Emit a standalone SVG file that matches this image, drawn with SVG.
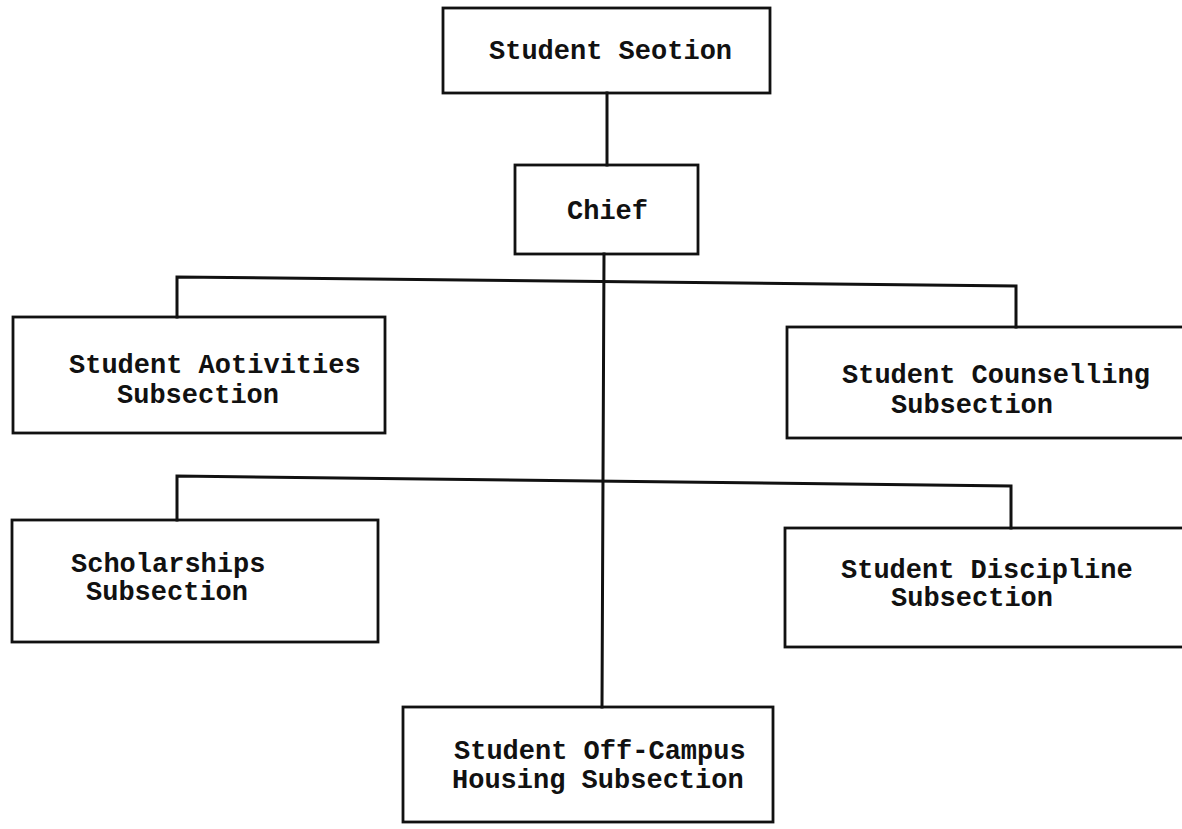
<svg xmlns="http://www.w3.org/2000/svg" width="1182" height="829" viewBox="0 0 1182 829">
  <style>
    .box { fill: none; stroke: #111; stroke-width: 2.8; }
    .wire { fill: none; stroke: #111; stroke-width: 3; stroke-linecap: square; }
    .label { font-family: "Liberation Mono", "DejaVu Sans Mono", monospace; font-size: 27px; font-weight: bold; fill: #111; }
  </style>
  <rect width="1182" height="829" fill="#fff"/>

  <!-- reporting lines -->
  <g id="connectors">
    <line class="wire" x1="607" y1="93" x2="607" y2="165"/>
    <line class="wire" x1="604" y1="254" x2="602" y2="707"/>
    <polyline class="wire" points="177,317 177,277 1016,286 1016,327"/>
    <polyline class="wire" points="177,520 177,476 1011,486 1011,528"/>
  </g>

  <g id="student-section">
    <rect class="box" x="443" y="8" width="327" height="85"/>
    <text class="label" x="489" y="59">Student Seotion</text>
  </g>

  <g id="chief">
    <rect class="box" x="515" y="165" width="183" height="89"/>
    <text class="label" x="567" y="219">Chief</text>
  </g>

  <g id="student-activities">
    <rect class="box" x="13" y="317" width="372" height="116"/>
    <text class="label" x="69" y="373">Student Aotivities</text>
    <text class="label" x="117" y="403">Subsection</text>
  </g>

  <g id="student-counselling">
    <rect class="box" x="787" y="327" width="420" height="111"/>
    <text class="label" x="842" y="383">Student Counselling</text>
    <text class="label" x="891" y="413">Subsection</text>
  </g>

  <g id="scholarships">
    <rect class="box" x="12" y="520" width="366" height="122"/>
    <text class="label" x="71" y="572">Scholarships</text>
    <text class="label" x="86" y="600">Subsection</text>
  </g>

  <g id="student-discipline">
    <rect class="box" x="785" y="528" width="420" height="119"/>
    <text class="label" x="841" y="578">Student Discipline</text>
    <text class="label" x="891" y="606">Subsection</text>
  </g>

  <g id="off-campus-housing">
    <rect class="box" x="403" y="707" width="370" height="115"/>
    <text class="label" x="454" y="759">Student Off-Campus</text>
    <text class="label" x="452" y="788">Housing Subsection</text>
  </g>
</svg>
